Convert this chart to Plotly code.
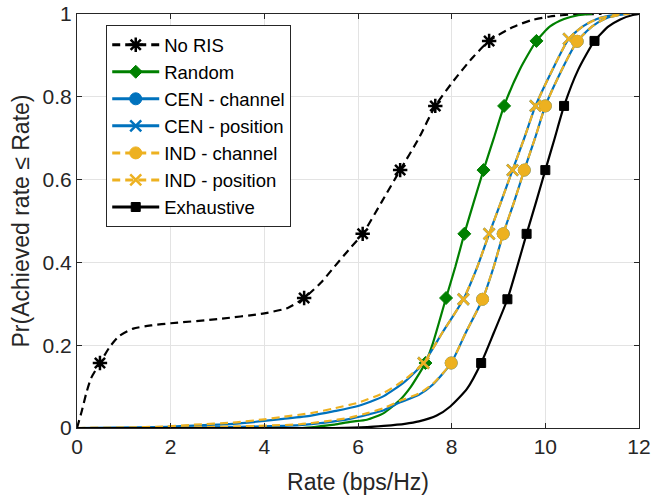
import plotly.graph_objects as go

# ---------------- data ----------------
norris_x = [0, 0.1, 0.2, 0.3, 0.49, 0.7, 0.9, 1.2, 1.6, 2.0, 3.0, 4.0, 4.5, 4.85, 5.2, 5.5, 5.8, 6.1, 6.5, 6.9, 7.3, 7.65, 8.05, 8.45, 8.8, 9.3, 9.7, 10.1, 10.6, 11.2]
norris_y = [0, 0.04, 0.085, 0.12, 0.157, 0.196, 0.222, 0.24, 0.248, 0.253, 0.263, 0.277, 0.29, 0.314, 0.35, 0.39, 0.43, 0.469, 0.545, 0.623, 0.70, 0.778, 0.84, 0.895, 0.935, 0.968, 0.985, 0.994, 0.999, 1.0]
norris_mk = [4, 13, 17, 19, 21, 24]

random_x = [4.8, 5.1, 5.5, 5.83, 6.19, 6.55, 6.9, 7.12, 7.3, 7.44, 7.6, 7.88, 8.08, 8.27, 8.47, 8.68, 8.9, 9.12, 9.45, 9.81, 10.1, 10.4, 10.7, 11.0]
random_y = [0, 0.003, 0.008, 0.015, 0.02, 0.036, 0.068, 0.098, 0.13, 0.157, 0.205, 0.314, 0.39, 0.469, 0.545, 0.623, 0.70, 0.778, 0.865, 0.935, 0.97, 0.988, 0.997, 1.0]
random_mk = [9, 11, 13, 15, 17, 19]

cench_x = [0, 2.0, 3.5, 4.76, 5.3, 5.83, 6.2, 6.55, 6.9, 7.3, 7.6, 7.99, 8.3, 8.66, 8.9, 9.1, 9.33, 9.55, 9.78, 10.0, 10.35, 10.68, 11.0, 11.3, 11.7]
cench_y = [0, 0.001, 0.003, 0.007, 0.013, 0.022, 0.032, 0.043, 0.062, 0.08, 0.105, 0.157, 0.23, 0.311, 0.39, 0.469, 0.545, 0.623, 0.70, 0.778, 0.865, 0.934, 0.97, 0.99, 1.0]
cench_mk = [11, 13, 15, 17, 19, 21]

cenpos_x = [0, 1.0, 1.92, 2.5, 3.33, 4.0, 4.4, 5.0, 5.47, 6.0, 6.55, 7.0, 7.4, 7.8, 8.25, 8.55, 8.8, 9.05, 9.3, 9.55, 9.79, 10.15, 10.5, 10.8, 11.1, 11.5, 11.8]
cenpos_y = [0, 0.001, 0.003, 0.006, 0.01, 0.017, 0.022, 0.03, 0.04, 0.053, 0.077, 0.112, 0.157, 0.23, 0.311, 0.39, 0.469, 0.545, 0.623, 0.70, 0.778, 0.865, 0.94, 0.97, 0.988, 0.998, 1.0]
cenpos_mk = [12, 14, 16, 18, 20, 22]

indch_x = [0, 2.0, 3.5, 4.76, 5.3, 5.83, 6.2, 6.55, 6.9, 7.3, 7.6, 7.99, 8.3, 8.66, 8.9, 9.1, 9.33, 9.55, 9.78, 10.0, 10.35, 10.68, 11.0, 11.3, 11.7]
indch_y = [0, 0.001, 0.004, 0.009, 0.016, 0.025, 0.036, 0.048, 0.066, 0.083, 0.107, 0.157, 0.23, 0.311, 0.39, 0.469, 0.545, 0.623, 0.70, 0.778, 0.865, 0.934, 0.97, 0.99, 1.0]
indch_mk = [11, 13, 15, 17, 19, 21]

indpos_x = [0, 1.0, 1.92, 2.5, 3.33, 4.0, 4.4, 5.0, 5.47, 6.0, 6.55, 7.0, 7.4, 7.8, 8.25, 8.55, 8.8, 9.05, 9.3, 9.55, 9.79, 10.15, 10.5, 10.8, 11.1, 11.5, 11.8]
indpos_y = [0, 0.001, 0.004, 0.008, 0.013, 0.021, 0.027, 0.036, 0.047, 0.061, 0.085, 0.117, 0.157, 0.23, 0.311, 0.39, 0.469, 0.545, 0.623, 0.70, 0.778, 0.865, 0.94, 0.97, 0.988, 0.998, 1.0]
indpos_mk = [12, 14, 16, 18, 20, 22]

exh_x = [0, 5.5, 6.2, 6.55, 7.0, 7.3, 7.68, 7.97, 8.33, 8.63, 8.9, 9.19, 9.4, 9.6, 9.8, 10.0, 10.2, 10.4, 10.7, 11.05, 11.35, 11.6, 11.85, 12.0]
exh_y = [0, 0, 0.002, 0.005, 0.01, 0.016, 0.03, 0.052, 0.095, 0.157, 0.23, 0.311, 0.39, 0.469, 0.545, 0.623, 0.70, 0.778, 0.865, 0.935, 0.97, 0.987, 0.997, 1.0]
exh_mk = [9, 11, 13, 15, 17, 19]

names = ["No RIS", "Random", "CEN - channel", "CEN - position", "IND - channel", "IND - position", "Exhaustive"]
x_ticks = [0, 2, 4, 6, 8, 10, 12]
y_ticks = [0, 0.2, 0.4, 0.6, 0.8, 1]
y_ticklabels = ["0", "0.2", "0.4", "0.6", "0.8", "1"]

# ---------------- styles ----------------
BLUE = "#0072BD"
YEL = "#EDB120"
GREEN = "#008000"
BLK = "#000000"
DASH = "8px,5px"

series = [
    (names[0], norris_x, norris_y, norris_mk, BLK, DASH, "asterisk-open", 12, 2.5),
    (names[1], random_x, random_y, random_mk, GREEN, "solid", "diamond", 10, 1),
    (names[2], cench_x, cench_y, cench_mk, BLUE, "solid", "circle", 12, 1),
    (names[3], cenpos_x, cenpos_y, cenpos_mk, BLUE, "solid", "x-thin-open", 11, 2.5),
    (names[4], indch_x, indch_y, indch_mk, YEL, DASH, "circle", 12, 1),
    (names[5], indpos_x, indpos_y, indpos_mk, YEL, DASH, "x-thin-open", 11, 2.5),
    (names[6], exh_x, exh_y, exh_mk, BLK, "solid", "square", 9, 1),
]

fig = go.Figure()
for name, xs, ys, mk, col, dash, sym, ms, mlw in series:
    fig.add_trace(go.Scatter(
        x=xs, y=ys, mode="lines", showlegend=False, hoverinfo="skip",
        line=dict(color=col, width=2.2, dash=dash, shape="spline", smoothing=0.6)))
    fig.add_trace(go.Scatter(
        x=[xs[i] for i in mk], y=[ys[i] for i in mk], mode="markers", showlegend=False,
        marker=dict(symbol=sym, size=ms, color=col, line=dict(color=col, width=mlw))))
    fig.add_trace(go.Scatter(
        x=[None], y=[None], mode="lines+markers", name=name,
        line=dict(color=col, width=3, dash=dash),
        marker=dict(symbol=sym, size=ms, color=col, line=dict(color=col, width=mlw))))

FONT = "Liberation Sans, Arial, Helvetica, sans-serif"
axis_common = dict(
    showgrid=True, gridcolor="#e3e3e3", gridwidth=1,
    showline=True, linecolor="#262626", linewidth=1, mirror="ticks",
    ticks="inside", ticklen=5, tickcolor="#262626",
    tickfont=dict(family=FONT, size=21, color="#262626"),
    zeroline=False, automargin=False,
)

fig.update_layout(
    width=653, height=495,
    margin=dict(l=77, r=14, t=14, b=67),
    paper_bgcolor="white", plot_bgcolor="white",
    font=dict(family=FONT, color="#262626"),
    xaxis=dict(range=[0, 12], tickvals=x_ticks, **axis_common,
               title=dict(text="Rate (bps/Hz)", font=dict(size=23, family=FONT, color="#262626"), standoff=16)),
    yaxis=dict(range=[0, 1], tickvals=y_ticks, ticktext=y_ticklabels, **axis_common,
               title=dict(text="Pr(Achieved rate ≤ Rate)", font=dict(size=23, family=FONT, color="#262626"), standoff=6)),
    legend=dict(x=0.052, y=0.973, xanchor="left", yanchor="top",
                bgcolor="white", bordercolor="#262626", borderwidth=1,
                font=dict(family=FONT, size=18.5, color="#000000"),
                tracegroupgap=0, itemwidth=47),
)

# remove the default 8px page margin so the figure sits at the window's top-left corner
fig.write_html("out.html", config={"displayModeBar": False},
               post_script="document.body.style.margin='0';document.body.style.overflow='hidden';")
